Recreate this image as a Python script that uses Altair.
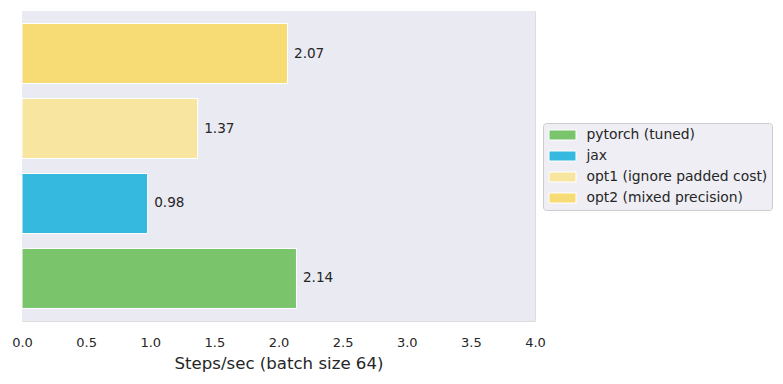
import altair as alt
import pandas as pd

methods = ["pytorch (tuned)", "jax", "opt1 (ignore padded cost)", "opt2 (mixed precision)"]
values = [2.14, 0.98, 1.37, 2.07]
labels = ["2.14", "0.98", "1.37", "2.07"]
colors = ["#7AC46C", "#35B9DE", "#F8E5A0", "#F7DB74"]
x_ticks = [0.0, 0.5, 1.0, 1.5, 2.0, 2.5, 3.0, 3.5, 4.0]

df = pd.DataFrame({"method": methods, "value": values, "label": labels})
order = list(reversed(methods))

W, H = 513, 310

y_enc = alt.Y("method:N", sort=order,
              scale=alt.Scale(paddingInner=0.2, paddingOuter=0.167),
              axis=None)

bg = alt.Chart(pd.DataFrame({"a": [0]})).mark_rect(color="#EAEAF2").encode(
    x=alt.value(0), x2=alt.value(W), y=alt.value(0), y2=alt.value(H)
)

bars = alt.Chart(df).mark_bar(stroke="white", strokeWidth=1).encode(
    x=alt.X("value:Q",
            scale=alt.Scale(domain=[0, 4], nice=False),
            axis=alt.Axis(values=x_ticks, format=".1f", title="Steps/sec (batch size 64)",
                          grid=False, ticks=False, domain=False, labelFlush=False,
                          labelFont="DejaVu Sans", labelFontSize=13, labelColor="#262626",
                          labelPadding=15,
                          titleFont="DejaVu Sans", titleFontSize=16.6, titleFontWeight="normal",
                          titleColor="#262626", titlePadding=6)),
    y=y_enc,
    color=alt.Color("method:N", sort=methods,
                    scale=alt.Scale(domain=methods, range=colors),
                    legend=alt.Legend(title=None, orient="none", legendX=521, legendY=112,
                                      symbolType="M-1.8,-0.667L1.8,-0.667L1.8,0.667L-1.8,0.667Z",
                                      symbolSize=225, symbolStrokeColor="white",
                                      symbolStrokeWidth=1, symbolOpacity=1,
                                      symbolOffset=7.5,
                                      labelFont="DejaVu Sans", labelFontSize=13.9,
                                      labelColor="#262626", labelLimit=400,
                                      fillColor="#EEEEF4", strokeColor="#CCCCCC",
                                      cornerRadius=3, padding=4, rowPadding=5,
                                      labelOffset=16)),
)

text = alt.Chart(df).mark_text(align="left", baseline="middle", dx=6.5,
                               font="DejaVu Sans", fontSize=13.6, color="#262626").encode(
    x=alt.X("value:Q"),
    y=y_enc,
    text="label:N",
)

chart = alt.layer(bg, bars, text).properties(
    width=W, height=H,
    autosize=alt.AutoSizeParams(type="none"),
    padding={"left": 14, "top": 3, "right": 240, "bottom": 55},
).configure_view(strokeWidth=0).configure(background="white")

chart.save("out.html", embed_options={"renderer": "svg", "actions": False})
